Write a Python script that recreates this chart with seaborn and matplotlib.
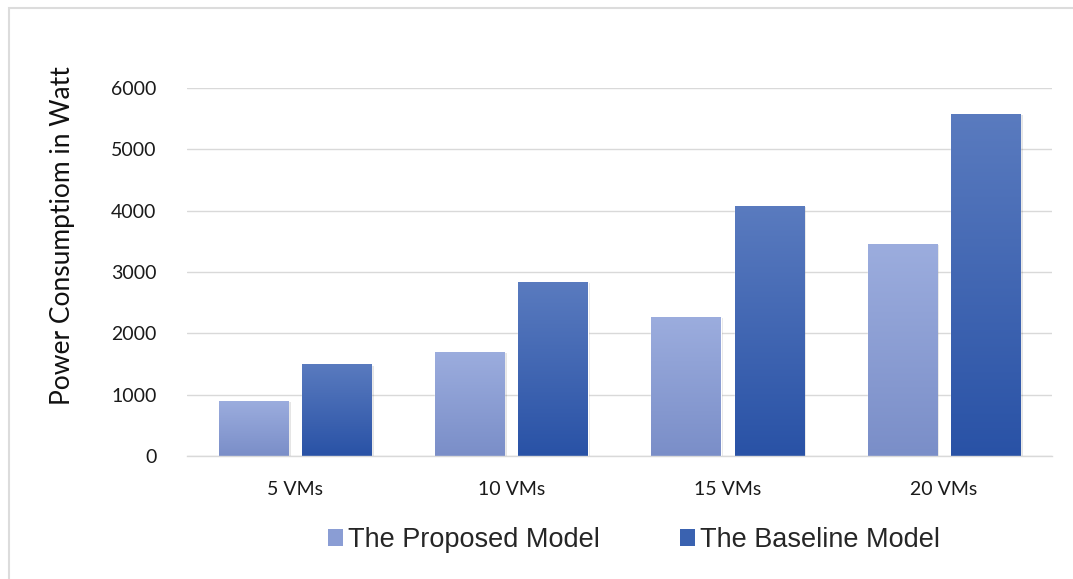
import numpy as np
import pandas as pd
import matplotlib
matplotlib.use("Agg")
import matplotlib.pyplot as plt
from matplotlib.colors import LinearSegmentedColormap
from matplotlib.patches import Rectangle
import seaborn as sns

# Chart data
categories = ["5 VMs", "10 VMs", "15 VMs", "20 VMs"]
proposed = [900, 1700, 2270, 3460]
baseline = [1500, 2840, 4080, 5580]
series_names = ["The Proposed Model", "The Baseline Model"]
y_ticks = [0, 1000, 2000, 3000, 4000, 5000, 6000]

df = pd.DataFrame({
    "category": categories * 2,
    "value": proposed + baseline,
    "model": [series_names[0]] * len(categories) + [series_names[1]] * len(categories),
})

sns.set_theme(style="white")
plt.rcParams["font.family"] = ["Lato", "DejaVu Sans"]

fig = plt.figure(figsize=(10.73, 5.79), dpi=100)
ax = fig.add_axes([0.1743, 0.2124, 0.8061, 0.6356])

# (top colour, bottom colour) for the gradient fill of each series
gradients = {
    series_names[0]: ("#9cadde", "#7a8ec8"),
    series_names[1]: ("#5a7bbf", "#2952a6"),
}
solid = {series_names[0]: "#8a9dd4", series_names[1]: "#3a62b0"}

sns.barplot(data=df, x="category", y="value", hue="model", order=categories,
            hue_order=series_names, palette=solid, width=0.77, gap=0.17,
            ax=ax, legend=False, saturation=1)

# Overlay a vertical gradient on each bar, with a soft drop shadow
for container, name in zip(ax.containers, series_names):
    top_c, bot_c = gradients[name]
    cmap = LinearSegmentedColormap.from_list(name, [bot_c, top_c])
    for bar in container:
        x0, y0 = bar.get_x(), bar.get_y()
        w, h = bar.get_width(), bar.get_height()
        shadow = Rectangle((x0 + 0.012, y0 - 25), w, h, facecolor="#000000",
                           alpha=0.10, edgecolor="none", zorder=bar.get_zorder() - 0.1)
        ax.add_patch(shadow)
        grad = np.linspace(0, 1, 256).reshape(-1, 1)
        im = ax.imshow(grad, extent=(x0, x0 + w, y0, y0 + h), origin="lower",
                       aspect="auto", cmap=cmap, zorder=bar.get_zorder() + 0.1)
        im.set_clip_path(bar)

ax.set_xlim(-0.5, len(categories) - 0.5)
ax.set_ylim(0, 6000)
ax.set_yticks(y_ticks)
ax.set_yticklabels([str(t) for t in y_ticks], fontsize=14, color="#1a1a1a")
ax.set_xticks(range(len(categories)))
ax.set_xticklabels(categories, fontsize=14, color="#1a1a1a")
ax.tick_params(axis="both", length=0)
ax.tick_params(axis="y", pad=22)
ax.tick_params(axis="x", pad=18)
ax.set_xlabel("")
ax.set_ylabel("Power Consumptiom in Watt", fontsize=19, color="#111111")
ax.yaxis.set_label_coords(-0.129, 0.60)

ax.grid(axis="y", color="#d9d9d9", linewidth=1)
ax.set_axisbelow(True)
for side in ["top", "right", "left"]:
    ax.spines[side].set_visible(False)
ax.spines["bottom"].set_color("#d9d9d9")
ax.spines["bottom"].set_linewidth(1)

# Legend
handles = [Rectangle((0, 0), 1, 1, facecolor=solid[n], edgecolor="none") for n in series_names]
fig.legend(handles, series_names, loc="center", bbox_to_anchor=(0.591, 0.067),
           ncol=2, frameon=False, prop={"family": "Liberation Sans", "size": 19.5},
           handlelength=0.55, handleheight=0.55, handletextpad=0.2, columnspacing=2.95)

# Chart area border
fig.patches.append(Rectangle((9 / 1073, -0.01), 1.02, 1 - 8 / 579 + 0.01,
                             transform=fig.transFigure, fill=False,
                             edgecolor="#dcdcdc", linewidth=1.5))

fig.savefig("out.png", dpi=100, facecolor="white")
